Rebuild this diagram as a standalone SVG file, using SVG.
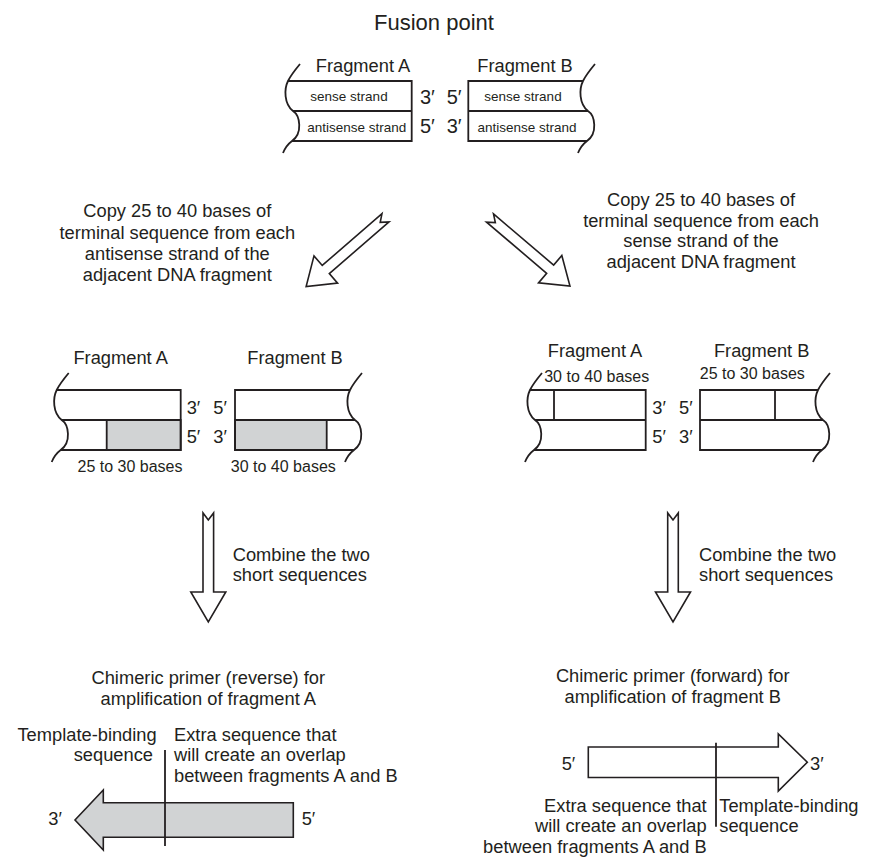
<svg xmlns="http://www.w3.org/2000/svg" xmlns:xlink="http://www.w3.org/1999/xlink" width="869" height="861" viewBox="0 0 869 861">
<style>
.ln{fill:none;stroke:#231f20;stroke-width:1.8}
.gray{fill:#d1d3d4;stroke:#231f20;stroke-width:1.8}
.arrow{fill:#fff;stroke:#231f20;stroke-width:1.6;stroke-linejoin:miter}
.garrow{fill:#d1d3d4;stroke:#231f20;stroke-width:1.6}
text{font-family:"Liberation Sans",Arial,sans-serif;fill:#231f20}
.t18{font-size:18.3px}
.t13{font-size:13.5px}
.t16{font-size:16px}
.t20{font-size:20px}
.t22{font-size:22px}
.m{text-anchor:middle}
.e{text-anchor:end}
</style>
<defs>
<path id="wave" class="ln" d="M12,-17 C7,-11 3,-6 0,0 C-4,8 -4,23 5,30 C12,34.5 15,52 4,60 C0,63 -3,67 -5,72"/>
</defs>
<rect width="869" height="861" fill="#fff"/>
<g id="title"><text class="t22 m" x="434" y="30">Fusion point</text></g>

<g id="top-fragment-A">
<use xlink:href="#wave" x="288" y="81"/>
<path class="ln" d="M288,81 H411.7 V141 H292 M293,111 H411.7"/>
<text class="t18 m" x="363" y="71.7">Fragment A</text>
<text class="t13 m" x="349" y="100.5">sense strand</text>
<text class="t13 m" x="356.7" y="131.5">antisense strand</text>
<text class="t20" x="420" y="104">3′</text><text class="t20" x="446.7" y="104">5′</text>
<text class="t20" x="420" y="133">5′</text><text class="t20" x="446.7" y="133">3′</text>
</g>
<g id="top-fragment-B">
<use xlink:href="#wave" x="583" y="81"/>
<path class="ln" d="M583,81 H468.3 V141 H587 M468.3,111 H588"/>
<text class="t18 m" x="525" y="71.7">Fragment B</text>
<text class="t13 m" x="523" y="100.5">sense strand</text>
<text class="t13 m" x="527" y="131.5">antisense strand</text>
</g>

<g id="copy-left">
<text class="t18 m" x="177.3" y="217.3">Copy 25 to 40 bases of</text>
<text class="t18 m" x="177.3" y="238.5">terminal sequence from each</text>
<text class="t18 m" x="177.3" y="259.7">antisense strand of the</text>
<text class="t18 m" x="177.3" y="280.9">adjacent DNA fragment</text>
</g>
<g id="copy-right">
<text class="t18 m" x="701" y="206">Copy 25 to 40 bases of</text>
<text class="t18 m" x="701" y="226.5">terminal sequence from each</text>
<text class="t18 m" x="701" y="247">sense strand of the</text>
<text class="t18 m" x="701" y="267.5">adjacent DNA fragment</text>
</g>

<g id="left-fragment-A">
<rect class="gray" x="106.7" y="420" width="74" height="30"/>
<use xlink:href="#wave" x="56.7" y="390"/>
<path class="ln" d="M56.7,390 H180.7 V450 H60.7 M61.7,420 H180.7"/>
<text class="t18 m" x="120.7" y="364.3">Fragment A</text>
<text class="t18" x="186.7" y="414.3">3′</text><text class="t18" x="213.3" y="414.3">5′</text>
<text class="t18" x="186.7" y="443.3">5′</text><text class="t18" x="213.3" y="443.3">3′</text>
<text class="t16 m" x="130" y="471.7">25 to 30 bases</text>
</g>
<g id="left-fragment-B">
<rect class="gray" x="235" y="420" width="91.7" height="30"/>
<use xlink:href="#wave" x="350" y="390"/>
<path class="ln" d="M350,390 H235 V450 H354 M235,420 H355"/>
<text class="t18 m" x="295" y="364.3">Fragment B</text>
<text class="t16 m" x="283.3" y="471.7">30 to 40 bases</text>
</g>

<g id="right-fragment-A">
<use xlink:href="#wave" x="530" y="390"/>
<path class="ln" d="M530,390 H645.7 V450 H534 M535,420 H645.7 M554,390 V420"/>
<text class="t18 m" x="595" y="356.7">Fragment A</text>
<text class="t16 m" x="596.7" y="381.7">30 to 40 bases</text>
<text class="t18" x="652.3" y="414.3">3′</text><text class="t18" x="679" y="414.3">5′</text>
<text class="t18" x="652.3" y="443.3">5′</text><text class="t18" x="679" y="443.3">3′</text>
</g>
<g id="right-fragment-B">
<use xlink:href="#wave" x="818" y="390"/>
<path class="ln" d="M818,390 H700 V450 H822 M700,420 H823 M775,390 V420"/>
<text class="t18 m" x="761.7" y="356.7">Fragment B</text>
<text class="t16 m" x="752.3" y="379.3">25 to 30 bases</text>
</g>

<g id="combine-left">
<text class="t18" x="232.7" y="560.5">Combine the two</text>
<text class="t18" x="232.7" y="581">short sequences</text>
</g>
<g id="combine-right">
<text class="t18" x="699" y="560.5">Combine the two</text>
<text class="t18" x="699" y="581">short sequences</text>
</g>

<g id="primer-reverse">
<text class="t18 m" x="208.3" y="684">Chimeric primer (reverse) for</text>
<text class="t18 m" x="208.3" y="704.5">amplification of fragment A</text>
<text class="t18 e" x="156.7" y="740.5">Template-binding</text>
<text class="t18 e" x="153" y="761">sequence</text>
<text class="t18" x="174" y="740.5">Extra sequence that</text>
<text class="t18" x="174" y="761">will create an overlap</text>
<text class="t18" x="174" y="781.5">between fragments A and B</text>
<polygon class="garrow" points="293.3,802.7 103.3,802.7 103.3,790 75,820 103.3,850 103.3,837.3 293.3,837.3"/>
<line class="ln" x1="165" y1="750" x2="165" y2="846"/>
<text class="t18" x="48.3" y="825">3′</text>
<text class="t18" x="301.7" y="825">5′</text>
</g>
<g id="primer-forward">
<text class="t18 m" x="672.7" y="682">Chimeric primer (forward) for</text>
<text class="t18 m" x="672.7" y="702.5">amplification of fragment B</text>
<polygon class="arrow" points="588.3,747 778.3,747 778.3,734 807.3,762.3 778.3,791 778.3,777.5 588.3,777.5"/>
<line class="ln" x1="716" y1="742.7" x2="716" y2="826.7"/>
<text class="t18" x="561.7" y="770">5′</text>
<text class="t18" x="810" y="770">3′</text>
<text class="t18 e" x="706.7" y="811.5">Extra sequence that</text>
<text class="t18 e" x="706.7" y="832">will create an overlap</text>
<text class="t18 e" x="706.7" y="852.5">between fragments A and B</text>
<text class="t18" x="719.3" y="811.5">Template-binding</text>
<text class="t18" x="719.3" y="832">sequence</text>
</g>

<g id="connectors">
<polygon class="arrow" transform="translate(385.5,217.8) rotate(139.1)" points="0,-5.4 79,-5.4 79,-18 105,0 79,18 79,5.4 0,5.4 7,0"/>
<polygon class="arrow" transform="translate(490,218) rotate(40.4)" points="0,-5.4 79,-5.4 79,-18 105,0 79,18 79,5.4 0,5.4 7,0"/>
<polygon class="arrow" transform="translate(208.3,513) rotate(90)" points="0,-5.3 79,-5.3 79,-17.5 109,0 79,17.5 79,5.3 0,5.3 7,0"/>
<polygon class="arrow" transform="translate(673,513) rotate(90)" points="0,-5.3 79,-5.3 79,-17.5 109,0 79,17.5 79,5.3 0,5.3 7,0"/>
</g>
</svg>
